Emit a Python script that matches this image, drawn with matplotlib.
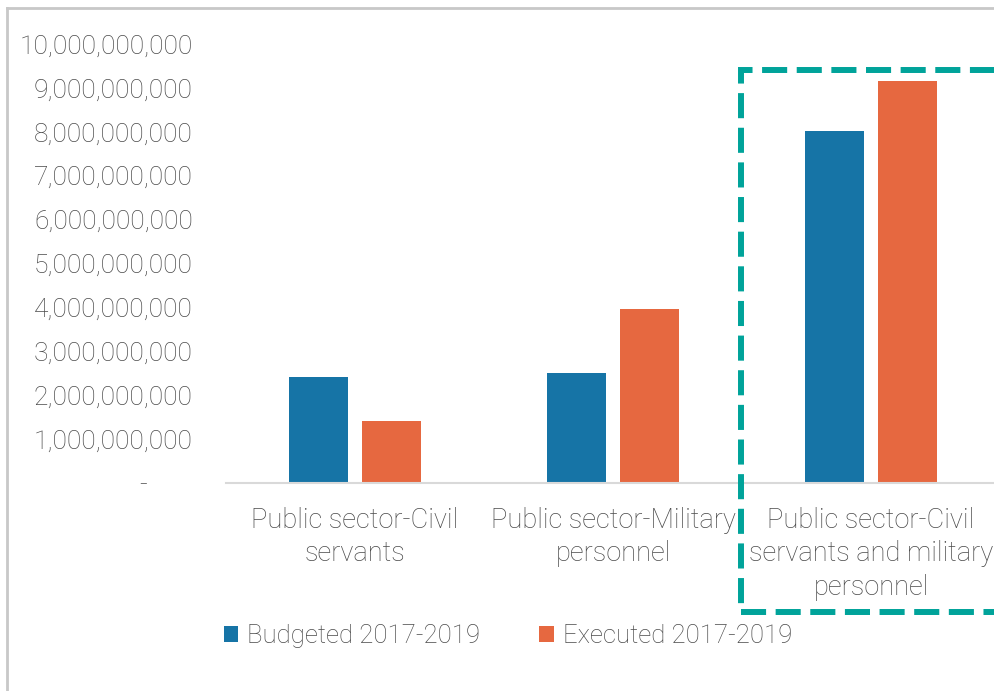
import matplotlib
matplotlib.use("Agg")
import matplotlib.pyplot as plt
from matplotlib.patches import Rectangle
from matplotlib.lines import Line2D
import numpy as np

categories = ["Public sector-Civil\nservants",
              "Public sector-Military\npersonnel",
              "Public sector-Civil\nservants and military\npersonnel"]
budgeted = [2.41e9, 2.50e9, 8.02e9]
executed = [1.41e9, 3.96e9, 9.16e9]
series_names = ["Budgeted 2017-2019", "Executed 2017-2019"]
yticks = np.arange(0, 10.01e9, 1e9)

BLUE = "#1674A6"
ORANGE = "#E66840"
TEAL = "#00A39A"
TXT = "#4A4A4A"

plt.rcParams['font.family'] = ['Roboto', 'DejaVu Sans']
plt.rcParams['font.weight'] = 'light'

fig = plt.figure(figsize=(9.94, 6.91), dpi=100)
W, H = 994, 691
ax = fig.add_axes([226 / W, 1 - 483 / H, 774 / W, (483 - 44) / H])

x = np.arange(len(categories))
bw = 0.225
off = 0.1415
ax.bar(x - off, budgeted, bw, color=BLUE, label=series_names[0])
ax.bar(x + off, executed, bw, color=ORANGE, label=series_names[1])

ax.set_xlim(-0.5, 2.5)
ax.set_ylim(0, 10e9)
ax.set_yticks(yticks)
labels = ["-" + "\u2007" * 3 if v == 0 else f"{int(v):,}" for v in yticks]
ax.set_yticklabels(labels)
ax.tick_params(axis='y', length=0, pad=24, labelsize=19, labelcolor=TXT)
ax.set_xticks(x)
ax.set_xticklabels(categories, linespacing=1.32)
ax.tick_params(axis='x', length=0, pad=17, labelsize=19.6, labelcolor=TXT)
for lab in ax.get_yticklabels() + ax.get_xticklabels():
    lab.set_fontweight('light')

for s in ['top', 'right', 'left']:
    ax.spines[s].set_visible(False)
ax.spines['bottom'].set_color('#D9D9D9')
ax.spines['bottom'].set_linewidth(1.5)

# dashed highlight box (figure pixel coords)
box = Rectangle((741 / W, 1 - 612 / H), (1010 - 741) / W, (612 - 70) / H,
                transform=fig.transFigure, fill=False, edgecolor=TEAL,
                linewidth=4.3, linestyle=(0, (4.2, 1.6)), clip_on=False)
fig.add_artist(box)

# outer frame
fig.add_artist(Line2D([7 / W, 7 / W], [0, 1 - 8 / H], transform=fig.transFigure,
                      color='#C8C8C8', linewidth=2))
fig.add_artist(Line2D([7 / W, 1], [1 - 8 / H, 1 - 8 / H], transform=fig.transFigure,
                      color='#C8C8C8', linewidth=2))

leg = fig.legend(loc='center', bbox_to_anchor=(508 / W, 1 - 636 / H), ncol=2,
                 frameon=False, fontsize=18.5, handlelength=0.55, handleheight=0.55,
                 handletextpad=0.35, columnspacing=2.3, labelcolor=TXT)
for t in leg.get_texts():
    t.set_fontweight('light')

fig.savefig("out.png", dpi=100)
